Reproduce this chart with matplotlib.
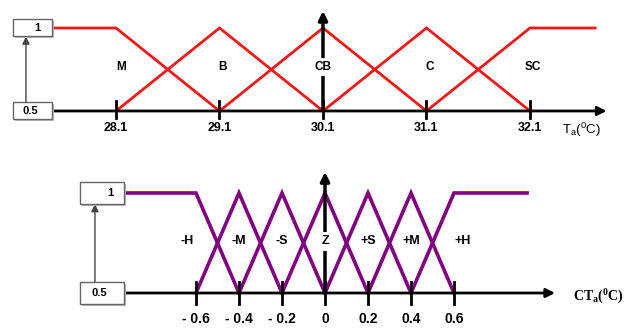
import matplotlib.pyplot as plt
from matplotlib.patches import Rectangle

plt.rcParams['font.family'] = ['Liberation Sans', 'DejaVu Sans']
plt.rcParams['mathtext.default'] = 'regular'

# top panel: ambient temperature sets
top_ticks = [28.1, 29.1, 30.1, 31.1, 32.1]
top_tick_labels = ['28.1', '29.1', '30.1', '31.1', '32.1']
top_names = ['M', 'B', 'CB', 'C', 'SC']
top_name_x = [28.15, 29.13, 30.1, 31.13, 32.13]
top_sets = [
    ([27.49, 28.1, 29.1], [1, 1, 0]),
    ([28.1, 29.1, 30.1], [0, 1, 0]),
    ([29.1, 30.1, 31.1], [0, 1, 0]),
    ([30.1, 31.1, 32.1], [0, 1, 0]),
    ([31.1, 32.1, 32.73], [0, 1, 1]),
]

# bottom panel: change of temperature sets
bot_ticks = [-0.6, -0.4, -0.2, 0, 0.2, 0.4, 0.6]
bot_tick_labels = ['- 0.6', '- 0.4', '- 0.2', '0', '0.2', '0.4', '0.6']
bot_names = ['-H', '-M', '-S', 'Z', '+S', '+M', '+H']
bot_name_x = [-0.642, -0.4, -0.2, 0, 0.2, 0.4, 0.642]
bot_sets = [
    ([-0.935, -0.6, -0.4], [1, 1, 0]),
    ([-0.6, -0.4, -0.2], [0, 1, 0]),
    ([-0.4, -0.2, 0], [0, 1, 0]),
    ([-0.2, 0, 0.2], [0, 1, 0]),
    ([0, 0.2, 0.4], [0, 1, 0]),
    ([0.2, 0.4, 0.6], [0, 1, 0]),
    ([0.4, 0.6, 0.94], [0, 1, 1]),
]

fig = plt.figure(figsize=(6.26, 3.29), dpi=100)

ax1 = fig.add_axes([0, 1 - 150 / 329, 1, 150 / 329])
ax1.set_xlim(26.979, 33.028)
ax1.set_ylim(-0.470, 1.337)

ax2 = fig.add_axes([0, 0, 1, 174 / 329])
ax2.set_xlim(-1.5116, 1.4)
ax2.set_ylim(-0.36, 1.38)

for ax in (ax1, ax2):
    ax.axis('off')


def arrow(ax, x0, y0, x1, y1, lw, color='black', ms=12):
    ax.annotate('', xy=(x1, y1), xytext=(x0, y0),
                arrowprops=dict(arrowstyle='-|>', color=color, lw=lw,
                                mutation_scale=ms, shrinkA=0, shrinkB=0))


def panel(ax, sets, color, lw, ticks, tick_labels, names, name_x, name_y,
          box_x, box_w, box_h, txt_x, arrow_x, axis_end, tick_h, vert_top,
          name_size, tick_size, tick_y):
    x0 = box_x + box_w
    # membership functions
    for xs, ys in sets:
        ax.plot(xs, ys, color=color, lw=lw, solid_joinstyle='miter', zorder=3)
    # horizontal axis
    arrow(ax, x0, 0, axis_end, 0, 2, ms=13)
    for t, lab in zip(ticks, tick_labels):
        ax.plot([t, t], [-tick_h[0], tick_h[1]], color='black', lw=2, zorder=4)
        ax.text(t, tick_y, lab, ha='center', va='center', fontsize=tick_size,
                fontweight='bold')
    # boxes with level values
    for yc, lab in [(1, '1'), (0, '0.5')]:
        ax.add_patch(Rectangle((box_x + 0.04 * box_w, yc - box_h / 2 - 0.02),
                               box_w, box_h, facecolor='#bbbbbb', edgecolor='none', zorder=4))
        ax.add_patch(Rectangle((box_x, yc - box_h / 2), box_w, box_h,
                               facecolor='white', edgecolor='#666666', lw=1, zorder=5))
        ax.text(txt_x if lab == '1' else box_x + box_w * 0.45, yc, lab,
                ha='center', va='center', fontsize=8, fontweight='bold', zorder=6)
    arrow(ax, arrow_x, box_h / 2, arrow_x, 1 - box_h / 2, 1, color='#444444', ms=11)
    # vertical axis at centre
    arrow(ax, ticks[len(ticks) // 2], 0, ticks[len(ticks) // 2], vert_top, 2.5, ms=13)
    for x, n in zip(name_x, names):
        ax.text(x, name_y, n, ha='center', va='center', fontsize=name_size,
                fontweight='bold', zorder=7,
                bbox=dict(facecolor='white', edgecolor='none', pad=2.5))


panel(ax1, top_sets, '#f01818', 2, top_ticks, top_tick_labels, top_names, top_name_x,
      0.53, 27.105, 0.377, 0.205, 27.34, 27.23, 32.84, (0.084, 0.12), 1.205,
      8.5, 9, -0.21)
ax1.text(32.6, -0.23, r'T$_a$($^0$C)', ha='center', va='center', fontsize=9.5)

panel(ax2, bot_sets, '#800080', 2.6, bot_ticks, bot_tick_labels, bot_names, bot_name_x,
      0.52, -1.1395, 0.2045, 0.22, -1.0, -1.07, 1.07, (0.11, 0.11), 1.21,
      9, 10, -0.26)
ax2.text(1.27, -0.04, r'CT$_a$($^0$C)', ha='center', va='center', fontsize=10,
         fontweight='bold', family=['Liberation Serif', 'DejaVu Serif'])

fig.savefig('out.png', dpi=100)
